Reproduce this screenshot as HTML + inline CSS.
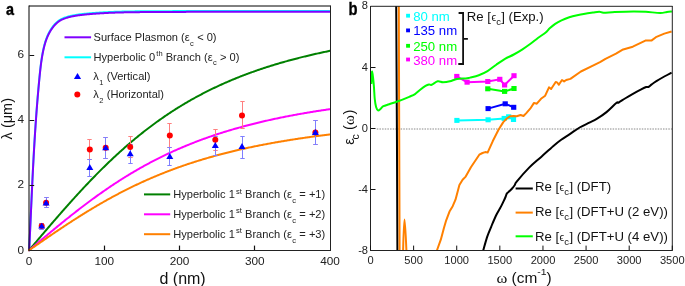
<!DOCTYPE html>
<html><head><meta charset="utf-8"><style>
html,body{margin:0;padding:0;background:#fff;}
svg{display:block;}
svg{will-change:transform;}
</style></head><body>
<svg xmlns="http://www.w3.org/2000/svg" width="685" height="286" viewBox="0 0 685 286">
<rect width="685" height="286" fill="#fff"/>
<g fill="none" stroke-width="2" stroke-linejoin="round" stroke-linecap="round">
<path d="M29.20,249.50 L29.22,248.86 L29.26,248.13 L29.29,247.40 L29.33,246.67 L29.36,245.93 L29.40,245.20 L29.43,244.47 L29.47,243.74 L29.50,243.01 L29.53,242.28 L29.57,241.55 L29.60,240.82 L29.64,240.09 L29.67,239.36 L29.71,238.63 L29.74,237.90 L29.77,237.17 L29.81,236.44 L29.84,235.71 L29.87,234.98 L29.91,234.25 L29.94,233.52 L29.98,232.80 L30.01,232.07 L30.04,231.34 L30.08,230.61 L30.11,229.88 L30.14,229.15 L30.18,228.43 L30.21,227.70 L30.24,226.97 L30.28,226.25 L30.31,225.52 L30.34,224.79 L30.37,224.06 L30.41,223.34 L30.44,222.61 L30.47,221.88 L30.51,221.16 L30.54,220.43 L30.57,219.71 L30.60,218.98 L30.64,218.25 L30.67,217.53 L30.70,216.80 L30.74,216.08 L30.77,215.35 L30.80,214.63 L30.83,213.90 L30.87,213.18 L30.90,212.45 L30.93,211.73 L30.97,211.00 L31.00,210.28 L31.03,209.55 L31.06,208.83 L31.10,208.10 L31.13,207.38 L31.16,206.66 L31.20,205.93 L31.23,205.21 L31.26,204.48 L31.29,203.76 L31.33,203.04 L31.36,202.31 L31.39,201.59 L31.43,200.87 L31.46,200.14 L31.49,199.42 L31.53,198.70 L31.56,197.97 L31.59,197.25 L31.63,196.53 L31.66,195.80 L31.69,195.08 L31.73,194.36 L31.76,193.64 L31.79,192.91 L31.83,192.19 L31.86,191.47 L31.89,190.75 L31.93,190.02 L31.96,189.30 L32.00,188.58 L32.03,187.86 L32.07,187.14 L32.10,186.41 L32.13,185.69 L32.17,184.97 L32.20,184.25 L32.24,183.53 L32.27,182.81 L32.31,182.08 L32.34,181.36 L32.38,180.64 L32.41,179.92 L32.45,179.20 L32.48,178.48 L32.52,177.75 L32.55,177.03 L32.59,176.31 L32.62,175.59 L32.66,174.87 L32.70,174.15 L32.73,173.43 L32.77,172.71 L32.81,171.98 L32.84,171.26 L32.88,170.54 L32.91,169.82 L32.95,169.10 L32.99,168.38 L33.03,167.66 L33.06,166.94 L33.10,166.22 L33.14,165.50 L33.18,164.77 L33.21,164.05 L33.25,163.33 L33.29,162.61 L33.33,161.89 L33.37,161.17 L33.40,160.45 L33.44,159.73 L33.48,159.01 L33.52,158.29 L33.56,157.57 L33.60,156.84 L33.64,156.12 L33.68,155.40 L33.72,154.68 L33.76,153.96 L33.80,153.24 L33.84,152.52 L33.88,151.80 L33.92,151.08 L33.96,150.36 L34.00,149.63 L34.05,148.91 L34.09,148.19 L34.13,147.47 L34.17,146.75 L34.21,146.03 L34.26,145.31 L34.30,144.59 L34.34,143.87 L34.38,143.14 L34.43,142.42 L34.47,141.70 L34.51,140.98 L34.56,140.26 L34.60,139.54 L34.65,138.82 L34.69,138.09 L34.74,137.37 L34.78,136.65 L34.83,135.93 L34.87,135.21 L34.92,134.49 L34.96,133.76 L35.01,133.04 L35.06,132.32 L35.10,131.60 L35.15,130.88 L35.20,130.15 L35.24,129.43 L35.29,128.71 L35.34,127.99 L35.39,127.27 L35.44,126.54 L35.49,125.82 L35.53,125.10 L35.58,124.38 L35.63,123.65 L35.68,122.93 L35.73,122.21 L35.78,121.48 L35.83,120.76 L35.88,120.04 L35.94,119.32 L35.99,118.59 L36.04,117.87 L36.09,117.15 L36.14,116.42 L36.20,115.70 L36.25,114.98 L36.30,114.25 L36.36,113.53 L36.41,112.80 L36.46,112.08 L36.52,111.36 L36.57,110.63 L36.63,109.91 L36.68,109.18 L36.74,108.46 L36.79,107.73 L36.85,107.01 L36.91,106.28 L36.96,105.56 L37.02,104.83 L37.08,104.11 L37.14,103.38 L37.19,102.66 L37.25,101.93 L37.31,101.21 L37.37,100.48 L37.43,99.76 L37.49,99.03 L37.55,98.30 L37.61,97.58 L37.67,96.85 L37.73,96.13 L37.80,95.40 L37.86,94.67 L37.92,93.95 L37.98,93.22 L38.05,92.49 L38.11,91.76 L38.17,91.04 L38.24,90.31 L38.30,89.58 L38.37,88.85 L38.43,88.13 L38.50,87.40 L38.56,86.67 L38.63,85.94 L38.70,85.21 L38.76,84.48 L38.83,83.76 L38.90,83.03 L38.97,82.30 L39.04,81.57 L39.11,80.84 L39.18,80.11 L39.25,79.38 L39.32,78.65 L39.39,77.92 L39.46,77.19 L39.53,76.46 L39.60,75.73 L39.67,75.00 L39.75,74.27 L39.82,73.54 L39.90,72.81 L39.97,72.08 L40.05,71.34 L40.13,70.62 L40.21,69.89 L40.29,69.16 L40.37,68.43 L40.45,67.70 L40.54,66.97 L40.62,66.24 L40.71,65.52 L40.80,64.79 L40.89,64.07 L40.99,63.34 L41.08,62.62 L41.18,61.89 L41.28,61.17 L41.38,60.45 L41.49,59.73 L41.60,59.01 L41.71,58.30 L41.82,57.58 L41.93,56.86 L42.05,56.15 L42.17,55.44 L42.30,54.73 L42.42,54.02 L42.56,53.31 L42.69,52.60 L42.83,51.90 L42.97,51.19 L43.11,50.49 L43.26,49.79 L43.41,49.09 L43.57,48.40 L43.72,47.70 L43.89,47.01 L44.06,46.32 L44.23,45.63 L44.41,44.94 L44.59,44.26 L44.78,43.58 L44.98,42.90 L45.18,42.22 L45.38,41.55 L45.60,40.87 L45.82,40.20 L46.05,39.54 L46.29,38.87 L46.53,38.21 L46.79,37.55 L47.05,36.89 L47.32,36.24 L47.60,35.59 L47.89,34.94 L48.19,34.30 L48.50,33.65 L48.82,33.01 L49.15,32.38 L49.49,31.75 L49.85,31.12 L50.21,30.49 L50.59,29.87 L50.98,29.25 L51.38,28.63 L51.79,28.02 L52.22,27.41 L52.66,26.81 L53.11,26.22 L53.57,25.63 L54.04,25.06 L54.53,24.49 L55.03,23.95 L55.54,23.41 L56.06,22.90 L56.59,22.40 L57.13,21.92 L57.68,21.46 L58.25,21.02 L58.82,20.61 L59.40,20.22 L60.00,19.85 L60.60,19.50 L61.21,19.18 L61.83,18.87 L62.45,18.58 L63.09,18.30 L63.73,18.04 L64.37,17.79 L65.03,17.56 L65.68,17.33 L66.35,17.11 L67.02,16.91 L67.69,16.71 L68.37,16.52 L69.05,16.33 L69.73,16.16 L70.42,15.99 L71.12,15.83 L71.81,15.67 L72.51,15.53 L73.22,15.39 L73.93,15.25 L74.64,15.12 L75.35,15.00 L76.06,14.88 L76.78,14.77 L77.50,14.66 L78.22,14.55 L78.95,14.45 L79.67,14.36 L80.40,14.27 L81.13,14.18 L81.86,14.09 L82.59,14.01 L83.32,13.93 L84.05,13.86 L84.78,13.78 L85.51,13.71 L86.25,13.64 L86.98,13.57 L87.71,13.50 L88.44,13.43 L89.17,13.37 L89.91,13.30 L90.64,13.24 L91.37,13.18 L92.10,13.12 L92.83,13.06 L93.56,13.00 L94.29,12.95 L95.03,12.89 L95.76,12.84 L96.49,12.79 L97.22,12.74 L97.95,12.69 L98.68,12.64 L99.41,12.59 L100.14,12.54 L100.87,12.50 L101.60,12.46 L102.33,12.41 L103.06,12.37 L103.79,12.33 L104.52,12.29 L105.25,12.25 L105.98,12.21 L106.71,12.18 L107.44,12.14 L108.17,12.11 L108.89,12.07 L109.62,12.04 L110.35,12.01 L111.08,11.98 L111.81,11.95 L112.54,11.92 L113.27,11.89 L114.00,11.86 L114.72,11.84 L115.45,11.81 L116.18,11.79 L116.91,11.76 L117.64,11.74 L118.36,11.72 L119.09,11.70 L119.82,11.67 L120.55,11.65 L121.28,11.63 L122.00,11.62 L122.73,11.60 L123.46,11.58 L124.18,11.56 L124.91,11.55 L125.64,11.53 L126.37,11.52 L127.09,11.50 L127.82,11.49 L128.55,11.47 L129.27,11.46 L130.00,11.45 L130.73,11.44 L131.45,11.42 L132.18,11.41 L132.91,11.40 L133.63,11.39 L134.36,11.38 L135.08,11.37 L135.81,11.37 L136.54,11.36 L137.26,11.35 L137.99,11.34 L138.71,11.33 L139.44,11.33 L140.16,11.32 L140.89,11.31 L141.62,11.31 L142.34,11.30 L143.07,11.29 L143.79,11.29 L144.52,11.28 L145.24,11.28 L145.97,11.27 L146.69,11.27 L147.42,11.26 L148.14,11.26 L148.87,11.25 L149.59,11.25 L150.32,11.24 L151.04,11.24 L151.77,11.23 L152.49,11.23 L153.21,11.22 L153.94,11.22 L154.66,11.22 L155.39,11.21 L156.11,11.21 L156.84,11.20 L157.56,11.20 L158.28,11.19 L159.01,11.19 L159.73,11.19 L160.46,11.18 L161.18,11.18 L161.90,11.18 L162.63,11.17 L163.35,11.17 L164.08,11.16 L164.80,11.16 L165.52,11.16 L166.25,11.15 L166.97,11.15 L167.69,11.15 L168.42,11.14 L169.14,11.14 L169.86,11.14 L170.59,11.13 L171.31,11.13 L172.04,11.13 L172.76,11.12 L173.48,11.12 L174.20,11.12 L174.93,11.11 L175.65,11.11 L176.37,11.11 L177.10,11.11 L177.82,11.10 L178.54,11.10 L179.27,11.10 L179.99,11.10 L180.71,11.09 L181.44,11.09 L182.16,11.09 L182.88,11.09 L183.60,11.08 L184.33,11.08 L185.05,11.08 L185.77,11.08 L186.50,11.07 L187.22,11.07 L187.94,11.07 L188.66,11.07 L189.39,11.06 L190.11,11.06 L190.83,11.06 L191.55,11.06 L192.28,11.06 L193.00,11.05 L193.72,11.05 L194.44,11.05 L195.17,11.05 L195.89,11.05 L196.61,11.05 L197.33,11.04 L198.06,11.04 L198.78,11.04 L199.50,11.04 L200.22,11.04 L200.95,11.04 L201.67,11.03 L202.39,11.03 L203.11,11.03 L203.84,11.03 L204.56,11.03 L205.28,11.03 L206.00,11.03 L206.73,11.02 L207.45,11.02 L208.17,11.02 L208.89,11.02 L209.62,11.02 L210.34,11.02 L211.06,11.02 L211.78,11.02 L212.50,11.01 L213.23,11.01 L213.95,11.01 L214.67,11.01 L215.39,11.01 L216.12,11.01 L216.84,11.01 L217.56,11.01 L218.28,11.01 L219.01,11.01 L219.73,11.01 L220.45,11.00 L221.17,11.00 L221.90,11.00 L222.62,11.00 L223.34,11.00 L224.06,11.00 L224.79,11.00 L225.51,11.00 L226.23,11.00 L226.95,11.00 L227.68,11.00 L228.40,11.00 L229.12,11.00 L229.84,11.00 L230.57,11.00 L231.29,11.00 L232.01,10.99 L232.73,10.99 L233.46,10.99 L234.18,10.99 L234.90,10.99 L235.63,10.99 L236.35,10.99 L237.07,10.99 L237.79,10.99 L238.52,10.99 L239.24,10.99 L239.96,10.99 L240.69,10.99 L241.41,10.99 L242.13,10.99 L242.85,10.99 L243.58,10.99 L244.30,10.99 L245.02,10.99 L245.75,10.99 L246.47,10.99 L247.19,10.99 L247.92,10.99 L248.64,10.99 L249.36,10.99 L250.09,10.99 L250.81,10.99 L251.53,10.99 L252.26,10.99 L252.98,10.99 L253.70,10.99 L254.43,10.99 L255.15,10.99 L255.88,10.99 L256.60,10.99 L257.32,10.99 L258.05,10.99 L258.77,10.99 L259.49,10.99 L260.22,10.99 L260.94,10.99 L261.67,10.99 L262.39,10.99 L263.11,10.99 L263.84,10.99 L264.56,10.99 L265.29,10.99 L266.01,10.99 L266.74,10.99 L267.46,10.99 L268.19,10.99 L268.91,10.99 L269.63,10.99 L270.36,10.99 L271.08,10.99 L271.81,10.99 L272.53,10.99 L273.26,10.99 L273.98,11.00 L274.71,11.00 L275.43,11.00 L276.16,11.00 L276.88,11.00 L277.61,11.00 L278.33,11.00 L279.06,11.00 L279.79,11.00 L280.51,11.00 L281.24,11.00 L281.96,11.00 L282.69,11.00 L283.41,11.00 L284.14,11.00 L284.87,11.00 L285.59,11.00 L286.32,11.00 L287.04,11.00 L287.77,11.00 L288.50,11.00 L289.22,11.00 L289.95,11.00 L290.68,11.00 L291.40,11.00 L292.13,11.00 L292.86,11.00 L293.58,11.00 L294.31,11.00 L295.04,11.00 L295.76,11.00 L296.49,11.00 L297.22,11.00 L297.94,11.00 L298.67,11.00 L299.40,11.00 L300.13,11.00 L300.85,11.00 L301.58,11.00 L302.31,11.00 L303.04,11.00 L303.77,11.01 L304.49,11.01 L305.22,11.01 L305.95,11.01 L306.68,11.01 L307.41,11.01 L308.14,11.01 L308.86,11.01 L309.59,11.01 L310.32,11.01 L311.05,11.01 L311.78,11.01 L312.51,11.01 L313.24,11.01 L313.97,11.01 L314.70,11.01 L315.43,11.01 L316.16,11.01 L316.88,11.01 L317.61,11.01 L318.34,11.01 L319.07,11.01 L319.80,11.01 L320.53,11.01 L321.26,11.00 L322.00,11.00 L322.73,11.00 L323.46,11.00 L324.19,11.00 L324.92,11.00 L325.65,11.00 L326.38,11.00 L327.11,11.00 L327.84,11.00 L328.57,11.00 L329.30,11.00 L330.04,11.00" stroke="#00FFFF"/>
<path d="M29.20,250.30 L29.22,249.66 L29.26,248.93 L29.29,248.20 L29.33,247.47 L29.36,246.73 L29.40,246.00 L29.43,245.27 L29.47,244.54 L29.50,243.81 L29.53,243.08 L29.57,242.35 L29.60,241.62 L29.64,240.89 L29.67,240.16 L29.71,239.43 L29.74,238.70 L29.77,237.97 L29.81,237.24 L29.84,236.51 L29.87,235.78 L29.91,235.05 L29.94,234.32 L29.98,233.60 L30.01,232.87 L30.04,232.14 L30.08,231.41 L30.11,230.68 L30.14,229.95 L30.18,229.23 L30.21,228.50 L30.24,227.77 L30.28,227.05 L30.31,226.32 L30.34,225.59 L30.37,224.86 L30.41,224.14 L30.44,223.41 L30.47,222.68 L30.51,221.96 L30.54,221.23 L30.57,220.51 L30.60,219.78 L30.64,219.05 L30.67,218.33 L30.70,217.60 L30.74,216.88 L30.77,216.15 L30.80,215.43 L30.83,214.70 L30.87,213.98 L30.90,213.25 L30.93,212.53 L30.97,211.80 L31.00,211.08 L31.03,210.35 L31.06,209.63 L31.10,208.90 L31.13,208.18 L31.16,207.46 L31.20,206.73 L31.23,206.01 L31.26,205.28 L31.29,204.56 L31.33,203.84 L31.36,203.11 L31.39,202.39 L31.43,201.67 L31.46,200.94 L31.49,200.22 L31.53,199.50 L31.56,198.77 L31.59,198.05 L31.63,197.33 L31.66,196.60 L31.69,195.88 L31.73,195.16 L31.76,194.44 L31.79,193.71 L31.83,192.99 L31.86,192.27 L31.89,191.55 L31.93,190.82 L31.96,190.10 L32.00,189.38 L32.03,188.66 L32.07,187.94 L32.10,187.21 L32.13,186.49 L32.17,185.77 L32.20,185.05 L32.24,184.33 L32.27,183.61 L32.31,182.88 L32.34,182.16 L32.38,181.44 L32.41,180.72 L32.45,180.00 L32.48,179.28 L32.52,178.55 L32.55,177.83 L32.59,177.11 L32.62,176.39 L32.66,175.67 L32.70,174.95 L32.73,174.23 L32.77,173.51 L32.81,172.78 L32.84,172.06 L32.88,171.34 L32.91,170.62 L32.95,169.90 L32.99,169.18 L33.03,168.46 L33.06,167.74 L33.10,167.02 L33.14,166.30 L33.18,165.57 L33.21,164.85 L33.25,164.13 L33.29,163.41 L33.33,162.69 L33.37,161.97 L33.40,161.25 L33.44,160.53 L33.48,159.81 L33.52,159.09 L33.56,158.37 L33.60,157.64 L33.64,156.92 L33.68,156.20 L33.72,155.48 L33.76,154.76 L33.80,154.04 L33.84,153.32 L33.88,152.60 L33.92,151.88 L33.96,151.16 L34.00,150.43 L34.05,149.71 L34.09,148.99 L34.13,148.27 L34.17,147.55 L34.21,146.83 L34.26,146.11 L34.30,145.39 L34.34,144.67 L34.38,143.94 L34.43,143.22 L34.47,142.50 L34.51,141.78 L34.56,141.06 L34.60,140.34 L34.65,139.62 L34.69,138.89 L34.74,138.17 L34.78,137.45 L34.83,136.73 L34.87,136.01 L34.92,135.29 L34.96,134.56 L35.01,133.84 L35.06,133.12 L35.10,132.40 L35.15,131.68 L35.20,130.95 L35.24,130.23 L35.29,129.51 L35.34,128.79 L35.39,128.07 L35.44,127.34 L35.49,126.62 L35.53,125.90 L35.58,125.18 L35.63,124.45 L35.68,123.73 L35.73,123.01 L35.78,122.28 L35.83,121.56 L35.88,120.84 L35.94,120.12 L35.99,119.39 L36.04,118.67 L36.09,117.95 L36.14,117.22 L36.20,116.50 L36.25,115.78 L36.30,115.05 L36.36,114.33 L36.41,113.60 L36.46,112.88 L36.52,112.16 L36.57,111.43 L36.63,110.71 L36.68,109.98 L36.74,109.26 L36.79,108.53 L36.85,107.81 L36.91,107.08 L36.96,106.36 L37.02,105.63 L37.08,104.91 L37.14,104.18 L37.19,103.46 L37.25,102.73 L37.31,102.01 L37.37,101.28 L37.43,100.56 L37.49,99.83 L37.55,99.10 L37.61,98.38 L37.67,97.65 L37.73,96.93 L37.80,96.20 L37.86,95.47 L37.92,94.75 L37.98,94.02 L38.05,93.29 L38.11,92.56 L38.17,91.84 L38.24,91.11 L38.30,90.38 L38.37,89.65 L38.43,88.93 L38.50,88.20 L38.56,87.47 L38.63,86.74 L38.70,86.01 L38.76,85.28 L38.83,84.56 L38.90,83.83 L38.97,83.10 L39.04,82.37 L39.11,81.64 L39.18,80.91 L39.25,80.18 L39.32,79.45 L39.39,78.72 L39.46,77.99 L39.53,77.26 L39.60,76.53 L39.67,75.80 L39.75,75.07 L39.82,74.34 L39.90,73.61 L39.97,72.88 L40.05,72.14 L40.13,71.42 L40.21,70.69 L40.29,69.96 L40.37,69.23 L40.45,68.50 L40.54,67.77 L40.62,67.04 L40.71,66.32 L40.80,65.59 L40.89,64.87 L40.99,64.14 L41.08,63.42 L41.18,62.69 L41.28,61.97 L41.38,61.25 L41.49,60.53 L41.60,59.81 L41.71,59.10 L41.82,58.38 L41.93,57.66 L42.05,56.95 L42.17,56.24 L42.30,55.53 L42.42,54.82 L42.56,54.11 L42.69,53.40 L42.83,52.70 L42.97,51.99 L43.11,51.29 L43.26,50.59 L43.41,49.89 L43.57,49.20 L43.72,48.50 L43.89,47.81 L44.06,47.12 L44.23,46.43 L44.41,45.74 L44.59,45.06 L44.78,44.38 L44.98,43.70 L45.18,43.02 L45.38,42.35 L45.60,41.67 L45.82,41.00 L46.05,40.34 L46.29,39.67 L46.53,39.01 L46.79,38.35 L47.05,37.69 L47.32,37.04 L47.60,36.39 L47.89,35.74 L48.19,35.10 L48.50,34.45 L48.82,33.81 L49.15,33.18 L49.49,32.55 L49.85,31.92 L50.21,31.29 L50.59,30.67 L50.98,30.05 L51.38,29.43 L51.79,28.82 L52.22,28.21 L52.66,27.61 L53.11,27.02 L53.57,26.43 L54.04,25.86 L54.53,25.29 L55.03,24.75 L55.54,24.21 L56.06,23.70 L56.59,23.20 L57.13,22.72 L57.68,22.26 L58.25,21.82 L58.82,21.41 L59.40,21.02 L60.00,20.65 L60.60,20.30 L61.21,19.98 L61.83,19.67 L62.45,19.38 L63.09,19.10 L63.73,18.84 L64.37,18.59 L65.03,18.36 L65.68,18.13 L66.35,17.91 L67.02,17.71 L67.69,17.51 L68.37,17.32 L69.05,17.13 L69.73,16.96 L70.42,16.79 L71.12,16.63 L71.81,16.47 L72.51,16.33 L73.22,16.19 L73.93,16.05 L74.64,15.92 L75.35,15.80 L76.06,15.68 L76.78,15.57 L77.50,15.46 L78.22,15.35 L78.95,15.25 L79.67,15.16 L80.40,15.07 L81.13,14.98 L81.86,14.89 L82.59,14.81 L83.32,14.73 L84.05,14.66 L84.78,14.58 L85.51,14.51 L86.25,14.44 L86.98,14.37 L87.71,14.30 L88.44,14.23 L89.17,14.17 L89.91,14.10 L90.64,14.04 L91.37,13.98 L92.10,13.92 L92.83,13.86 L93.56,13.80 L94.29,13.75 L95.03,13.69 L95.76,13.64 L96.49,13.59 L97.22,13.54 L97.95,13.49 L98.68,13.44 L99.41,13.39 L100.14,13.34 L100.87,13.30 L101.60,13.26 L102.33,13.21 L103.06,13.17 L103.79,13.13 L104.52,13.09 L105.25,13.05 L105.98,13.01 L106.71,12.98 L107.44,12.94 L108.17,12.91 L108.89,12.87 L109.62,12.84 L110.35,12.81 L111.08,12.78 L111.81,12.75 L112.54,12.72 L113.27,12.69 L114.00,12.66 L114.72,12.64 L115.45,12.61 L116.18,12.59 L116.91,12.56 L117.64,12.54 L118.36,12.52 L119.09,12.50 L119.82,12.47 L120.55,12.45 L121.28,12.43 L122.00,12.42 L122.73,12.40 L123.46,12.38 L124.18,12.36 L124.91,12.35 L125.64,12.33 L126.37,12.32 L127.09,12.30 L127.82,12.29 L128.55,12.27 L129.27,12.26 L130.00,12.25 L130.73,12.24 L131.45,12.22 L132.18,12.21 L132.91,12.20 L133.63,12.19 L134.36,12.18 L135.08,12.17 L135.81,12.17 L136.54,12.16 L137.26,12.15 L137.99,12.14 L138.71,12.13 L139.44,12.13 L140.16,12.12 L140.89,12.11 L141.62,12.11 L142.34,12.10 L143.07,12.09 L143.79,12.09 L144.52,12.08 L145.24,12.08 L145.97,12.07 L146.69,12.07 L147.42,12.06 L148.14,12.06 L148.87,12.05 L149.59,12.05 L150.32,12.04 L151.04,12.04 L151.77,12.03 L152.49,12.03 L153.21,12.02 L153.94,12.02 L154.66,12.02 L155.39,12.01 L156.11,12.01 L156.84,12.00 L157.56,12.00 L158.28,11.99 L159.01,11.99 L159.73,11.99 L160.46,11.98 L161.18,11.98 L161.90,11.98 L162.63,11.97 L163.35,11.97 L164.08,11.96 L164.80,11.96 L165.52,11.96 L166.25,11.95 L166.97,11.95 L167.69,11.95 L168.42,11.94 L169.14,11.94 L169.86,11.94 L170.59,11.93 L171.31,11.93 L172.04,11.93 L172.76,11.92 L173.48,11.92 L174.20,11.92 L174.93,11.91 L175.65,11.91 L176.37,11.91 L177.10,11.91 L177.82,11.90 L178.54,11.90 L179.27,11.90 L179.99,11.90 L180.71,11.89 L181.44,11.89 L182.16,11.89 L182.88,11.89 L183.60,11.88 L184.33,11.88 L185.05,11.88 L185.77,11.88 L186.50,11.87 L187.22,11.87 L187.94,11.87 L188.66,11.87 L189.39,11.86 L190.11,11.86 L190.83,11.86 L191.55,11.86 L192.28,11.86 L193.00,11.85 L193.72,11.85 L194.44,11.85 L195.17,11.85 L195.89,11.85 L196.61,11.85 L197.33,11.84 L198.06,11.84 L198.78,11.84 L199.50,11.84 L200.22,11.84 L200.95,11.84 L201.67,11.83 L202.39,11.83 L203.11,11.83 L203.84,11.83 L204.56,11.83 L205.28,11.83 L206.00,11.83 L206.73,11.82 L207.45,11.82 L208.17,11.82 L208.89,11.82 L209.62,11.82 L210.34,11.82 L211.06,11.82 L211.78,11.82 L212.50,11.81 L213.23,11.81 L213.95,11.81 L214.67,11.81 L215.39,11.81 L216.12,11.81 L216.84,11.81 L217.56,11.81 L218.28,11.81 L219.01,11.81 L219.73,11.81 L220.45,11.80 L221.17,11.80 L221.90,11.80 L222.62,11.80 L223.34,11.80 L224.06,11.80 L224.79,11.80 L225.51,11.80 L226.23,11.80 L226.95,11.80 L227.68,11.80 L228.40,11.80 L229.12,11.80 L229.84,11.80 L230.57,11.80 L231.29,11.80 L232.01,11.79 L232.73,11.79 L233.46,11.79 L234.18,11.79 L234.90,11.79 L235.63,11.79 L236.35,11.79 L237.07,11.79 L237.79,11.79 L238.52,11.79 L239.24,11.79 L239.96,11.79 L240.69,11.79 L241.41,11.79 L242.13,11.79 L242.85,11.79 L243.58,11.79 L244.30,11.79 L245.02,11.79 L245.75,11.79 L246.47,11.79 L247.19,11.79 L247.92,11.79 L248.64,11.79 L249.36,11.79 L250.09,11.79 L250.81,11.79 L251.53,11.79 L252.26,11.79 L252.98,11.79 L253.70,11.79 L254.43,11.79 L255.15,11.79 L255.88,11.79 L256.60,11.79 L257.32,11.79 L258.05,11.79 L258.77,11.79 L259.49,11.79 L260.22,11.79 L260.94,11.79 L261.67,11.79 L262.39,11.79 L263.11,11.79 L263.84,11.79 L264.56,11.79 L265.29,11.79 L266.01,11.79 L266.74,11.79 L267.46,11.79 L268.19,11.79 L268.91,11.79 L269.63,11.79 L270.36,11.79 L271.08,11.79 L271.81,11.79 L272.53,11.79 L273.26,11.79 L273.98,11.80 L274.71,11.80 L275.43,11.80 L276.16,11.80 L276.88,11.80 L277.61,11.80 L278.33,11.80 L279.06,11.80 L279.79,11.80 L280.51,11.80 L281.24,11.80 L281.96,11.80 L282.69,11.80 L283.41,11.80 L284.14,11.80 L284.87,11.80 L285.59,11.80 L286.32,11.80 L287.04,11.80 L287.77,11.80 L288.50,11.80 L289.22,11.80 L289.95,11.80 L290.68,11.80 L291.40,11.80 L292.13,11.80 L292.86,11.80 L293.58,11.80 L294.31,11.80 L295.04,11.80 L295.76,11.80 L296.49,11.80 L297.22,11.80 L297.94,11.80 L298.67,11.80 L299.40,11.80 L300.13,11.80 L300.85,11.80 L301.58,11.80 L302.31,11.80 L303.04,11.80 L303.77,11.81 L304.49,11.81 L305.22,11.81 L305.95,11.81 L306.68,11.81 L307.41,11.81 L308.14,11.81 L308.86,11.81 L309.59,11.81 L310.32,11.81 L311.05,11.81 L311.78,11.81 L312.51,11.81 L313.24,11.81 L313.97,11.81 L314.70,11.81 L315.43,11.81 L316.16,11.81 L316.88,11.81 L317.61,11.81 L318.34,11.81 L319.07,11.81 L319.80,11.81 L320.53,11.81 L321.26,11.80 L322.00,11.80 L322.73,11.80 L323.46,11.80 L324.19,11.80 L324.92,11.80 L325.65,11.80 L326.38,11.80 L327.11,11.80 L327.84,11.80 L328.57,11.80 L329.30,11.80 L330.04,11.80" stroke="#8000FF"/>
<path d="M29.00,250.30 L30.00,249.12 L31.00,247.94 L32.00,246.75 L33.00,245.57 L34.00,244.39 L35.00,243.21 L36.00,242.03 L37.00,240.85 L38.00,239.67 L39.00,238.49 L40.00,237.31 L41.00,236.14 L42.00,234.96 L43.00,233.79 L44.00,232.61 L45.00,231.44 L46.00,230.27 L47.00,229.10 L48.00,227.93 L49.00,226.76 L50.00,225.60 L51.00,224.43 L52.00,223.27 L53.00,222.11 L54.00,220.95 L55.00,219.80 L56.00,218.64 L57.00,217.49 L58.00,216.34 L59.00,215.19 L60.00,214.05 L61.00,212.90 L62.00,211.76 L63.00,210.63 L64.00,209.49 L65.00,208.36 L66.00,207.23 L67.00,206.10 L68.00,204.98 L69.00,203.86 L70.00,202.74 L71.00,201.62 L72.00,200.51 L73.00,199.40 L74.00,198.30 L75.00,197.19 L76.00,196.09 L77.00,195.00 L78.00,193.91 L79.00,192.82 L80.00,191.74 L81.00,190.65 L82.00,189.58 L83.00,188.50 L84.00,187.43 L85.00,186.37 L86.00,185.31 L87.00,184.25 L88.00,183.20 L89.00,182.15 L90.00,181.10 L91.00,180.06 L92.00,179.02 L93.00,177.99 L94.00,176.96 L95.00,175.94 L96.00,174.92 L97.00,173.90 L98.00,172.89 L99.00,171.88 L100.00,170.88 L101.00,169.88 L102.00,168.89 L103.00,167.90 L104.00,166.92 L105.00,165.94 L106.00,164.97 L107.00,164.00 L108.00,163.03 L109.00,162.07 L110.00,161.12 L111.00,160.17 L112.00,159.22 L113.00,158.28 L114.00,157.34 L115.00,156.41 L116.00,155.48 L117.00,154.56 L118.00,153.65 L119.00,152.74 L120.00,151.83 L121.00,150.93 L122.00,150.03 L123.00,149.14 L124.00,148.25 L125.00,147.37 L126.00,146.49 L127.00,145.62 L128.00,144.76 L129.00,143.89 L130.00,143.04 L131.00,142.19 L132.00,141.34 L133.00,140.50 L134.00,139.66 L135.00,138.83 L136.00,138.00 L137.00,137.18 L138.00,136.37 L139.00,135.55 L140.00,134.75 L141.00,133.95 L142.00,133.15 L143.00,132.36 L144.00,131.57 L145.00,130.79 L146.00,130.01 L147.00,129.24 L148.00,128.48 L149.00,127.72 L150.00,126.96 L151.00,126.21 L152.00,125.46 L153.00,124.72 L154.00,123.98 L155.00,123.25 L156.00,122.52 L157.00,121.80 L158.00,121.08 L159.00,120.37 L160.00,119.66 L161.00,118.96 L162.00,118.26 L163.00,117.57 L164.00,116.88 L165.00,116.19 L166.00,115.51 L167.00,114.84 L168.00,114.17 L169.00,113.50 L170.00,112.84 L171.00,112.18 L172.00,111.53 L173.00,110.89 L174.00,110.24 L175.00,109.60 L176.00,108.97 L177.00,108.34 L178.00,107.72 L179.00,107.10 L180.00,106.48 L181.00,105.87 L182.00,105.26 L183.00,104.66 L184.00,104.06 L185.00,103.47 L186.00,102.88 L187.00,102.29 L188.00,101.71 L189.00,101.13 L190.00,100.56 L191.00,99.99 L192.00,99.42 L193.00,98.86 L194.00,98.31 L195.00,97.75 L196.00,97.21 L197.00,96.66 L198.00,96.12 L199.00,95.58 L200.00,95.05 L201.00,94.52 L202.00,94.00 L203.00,93.48 L204.00,92.96 L205.00,92.45 L206.00,91.94 L207.00,91.43 L208.00,90.93 L209.00,90.43 L210.00,89.94 L211.00,89.45 L212.00,88.96 L213.00,88.47 L214.00,87.99 L215.00,87.52 L216.00,87.05 L217.00,86.58 L218.00,86.11 L219.00,85.65 L220.00,85.19 L221.00,84.73 L222.00,84.28 L223.00,83.83 L224.00,83.39 L225.00,82.94 L226.00,82.51 L227.00,82.07 L228.00,81.64 L229.00,81.21 L230.00,80.78 L231.00,80.36 L232.00,79.94 L233.00,79.52 L234.00,79.11 L235.00,78.70 L236.00,78.29 L237.00,77.89 L238.00,77.49 L239.00,77.09 L240.00,76.69 L241.00,76.30 L242.00,75.91 L243.00,75.53 L244.00,75.14 L245.00,74.76 L246.00,74.38 L247.00,74.01 L248.00,73.64 L249.00,73.27 L250.00,72.90 L251.00,72.54 L252.00,72.18 L253.00,71.82 L254.00,71.46 L255.00,71.11 L256.00,70.76 L257.00,70.41 L258.00,70.07 L259.00,69.72 L260.00,69.38 L261.00,69.05 L262.00,68.71 L263.00,68.38 L264.00,68.05 L265.00,67.72 L266.00,67.39 L267.00,67.07 L268.00,66.75 L269.00,66.43 L270.00,66.12 L271.00,65.80 L272.00,65.49 L273.00,65.18 L274.00,64.88 L275.00,64.57 L276.00,64.27 L277.00,63.97 L278.00,63.67 L279.00,63.38 L280.00,63.08 L281.00,62.79 L282.00,62.50 L283.00,62.22 L284.00,61.93 L285.00,61.65 L286.00,61.37 L287.00,61.09 L288.00,60.81 L289.00,60.54 L290.00,60.27 L291.00,60.00 L292.00,59.73 L293.00,59.46 L294.00,59.20 L295.00,58.93 L296.00,58.67 L297.00,58.41 L298.00,58.16 L299.00,57.90 L300.00,57.65 L301.00,57.39 L302.00,57.14 L303.00,56.90 L304.00,56.65 L305.00,56.41 L306.00,56.16 L307.00,55.92 L308.00,55.68 L309.00,55.44 L310.00,55.21 L311.00,54.97 L312.00,54.74 L313.00,54.51 L314.00,54.28 L315.00,54.05 L316.00,53.83 L317.00,53.60 L318.00,53.38 L319.00,53.16 L320.00,52.94 L321.00,52.72 L322.00,52.50 L323.00,52.29 L324.00,52.08 L325.00,51.86 L326.00,51.65 L327.00,51.44 L328.00,51.24 L329.00,51.03 L330.00,50.83" stroke="#008000"/>
<path d="M29.00,250.30 L30.00,249.46 L31.00,248.61 L32.00,247.77 L33.00,246.92 L34.00,246.08 L35.00,245.24 L36.00,244.39 L37.00,243.55 L38.00,242.71 L39.00,241.87 L40.00,241.03 L41.00,240.19 L42.00,239.35 L43.00,238.51 L44.00,237.67 L45.00,236.84 L46.00,236.00 L47.00,235.17 L48.00,234.33 L49.00,233.50 L50.00,232.67 L51.00,231.84 L52.00,231.01 L53.00,230.18 L54.00,229.36 L55.00,228.53 L56.00,227.71 L57.00,226.89 L58.00,226.07 L59.00,225.25 L60.00,224.44 L61.00,223.62 L62.00,222.81 L63.00,222.00 L64.00,221.19 L65.00,220.38 L66.00,219.58 L67.00,218.78 L68.00,217.98 L69.00,217.18 L70.00,216.38 L71.00,215.59 L72.00,214.80 L73.00,214.01 L74.00,213.22 L75.00,212.44 L76.00,211.66 L77.00,210.88 L78.00,210.10 L79.00,209.33 L80.00,208.56 L81.00,207.79 L82.00,207.03 L83.00,206.26 L84.00,205.51 L85.00,204.75 L86.00,204.00 L87.00,203.24 L88.00,202.50 L89.00,201.75 L90.00,201.01 L91.00,200.27 L92.00,199.54 L93.00,198.80 L94.00,198.07 L95.00,197.35 L96.00,196.62 L97.00,195.90 L98.00,195.19 L99.00,194.47 L100.00,193.76 L101.00,193.06 L102.00,192.35 L103.00,191.65 L104.00,190.96 L105.00,190.26 L106.00,189.57 L107.00,188.89 L108.00,188.21 L109.00,187.53 L110.00,186.85 L111.00,186.18 L112.00,185.51 L113.00,184.84 L114.00,184.18 L115.00,183.52 L116.00,182.87 L117.00,182.22 L118.00,181.57 L119.00,180.92 L120.00,180.28 L121.00,179.65 L122.00,179.01 L123.00,178.38 L124.00,177.76 L125.00,177.13 L126.00,176.51 L127.00,175.90 L128.00,175.29 L129.00,174.68 L130.00,174.07 L131.00,173.47 L132.00,172.87 L133.00,172.28 L134.00,171.69 L135.00,171.10 L136.00,170.52 L137.00,169.94 L138.00,169.37 L139.00,168.79 L140.00,168.22 L141.00,167.66 L142.00,167.10 L143.00,166.54 L144.00,165.99 L145.00,165.43 L146.00,164.89 L147.00,164.34 L148.00,163.80 L149.00,163.27 L150.00,162.73 L151.00,162.20 L152.00,161.68 L153.00,161.15 L154.00,160.64 L155.00,160.12 L156.00,159.61 L157.00,159.10 L158.00,158.59 L159.00,158.09 L160.00,157.59 L161.00,157.10 L162.00,156.61 L163.00,156.12 L164.00,155.63 L165.00,155.15 L166.00,154.67 L167.00,154.20 L168.00,153.73 L169.00,153.26 L170.00,152.79 L171.00,152.33 L172.00,151.87 L173.00,151.42 L174.00,150.96 L175.00,150.51 L176.00,150.07 L177.00,149.63 L178.00,149.19 L179.00,148.75 L180.00,148.32 L181.00,147.89 L182.00,147.46 L183.00,147.04 L184.00,146.61 L185.00,146.20 L186.00,145.78 L187.00,145.37 L188.00,144.96 L189.00,144.56 L190.00,144.15 L191.00,143.75 L192.00,143.35 L193.00,142.96 L194.00,142.57 L195.00,142.18 L196.00,141.79 L197.00,141.41 L198.00,141.03 L199.00,140.65 L200.00,140.28 L201.00,139.91 L202.00,139.54 L203.00,139.17 L204.00,138.81 L205.00,138.45 L206.00,138.09 L207.00,137.74 L208.00,137.38 L209.00,137.03 L210.00,136.68 L211.00,136.34 L212.00,136.00 L213.00,135.66 L214.00,135.32 L215.00,134.98 L216.00,134.65 L217.00,134.32 L218.00,133.99 L219.00,133.67 L220.00,133.35 L221.00,133.03 L222.00,132.71 L223.00,132.39 L224.00,132.08 L225.00,131.77 L226.00,131.46 L227.00,131.15 L228.00,130.85 L229.00,130.55 L230.00,130.25 L231.00,129.95 L232.00,129.66 L233.00,129.36 L234.00,129.07 L235.00,128.78 L236.00,128.50 L237.00,128.21 L238.00,127.93 L239.00,127.65 L240.00,127.37 L241.00,127.10 L242.00,126.82 L243.00,126.55 L244.00,126.28 L245.00,126.01 L246.00,125.75 L247.00,125.49 L248.00,125.22 L249.00,124.96 L250.00,124.71 L251.00,124.45 L252.00,124.20 L253.00,123.94 L254.00,123.69 L255.00,123.45 L256.00,123.20 L257.00,122.95 L258.00,122.71 L259.00,122.47 L260.00,122.23 L261.00,121.99 L262.00,121.76 L263.00,121.52 L264.00,121.29 L265.00,121.06 L266.00,120.83 L267.00,120.60 L268.00,120.38 L269.00,120.15 L270.00,119.93 L271.00,119.71 L272.00,119.49 L273.00,119.27 L274.00,119.06 L275.00,118.84 L276.00,118.63 L277.00,118.42 L278.00,118.21 L279.00,118.00 L280.00,117.80 L281.00,117.59 L282.00,117.39 L283.00,117.19 L284.00,116.98 L285.00,116.79 L286.00,116.59 L287.00,116.39 L288.00,116.20 L289.00,116.00 L290.00,115.81 L291.00,115.62 L292.00,115.43 L293.00,115.24 L294.00,115.06 L295.00,114.87 L296.00,114.69 L297.00,114.50 L298.00,114.32 L299.00,114.14 L300.00,113.96 L301.00,113.79 L302.00,113.61 L303.00,113.44 L304.00,113.26 L305.00,113.09 L306.00,112.92 L307.00,112.75 L308.00,112.58 L309.00,112.41 L310.00,112.25 L311.00,112.08 L312.00,111.92 L313.00,111.75 L314.00,111.59 L315.00,111.43 L316.00,111.27 L317.00,111.11 L318.00,110.96 L319.00,110.80 L320.00,110.65 L321.00,110.49 L322.00,110.34 L323.00,110.19 L324.00,110.04 L325.00,109.89 L326.00,109.74 L327.00,109.59 L328.00,109.44 L329.00,109.30 L330.00,109.15" stroke="#FF00FF"/>
<path d="M29.00,250.30 L30.00,249.61 L31.00,248.91 L32.00,248.22 L33.00,247.53 L34.00,246.83 L35.00,246.14 L36.00,245.45 L37.00,244.76 L38.00,244.07 L39.00,243.37 L40.00,242.68 L41.00,241.99 L42.00,241.31 L43.00,240.62 L44.00,239.93 L45.00,239.24 L46.00,238.56 L47.00,237.87 L48.00,237.19 L49.00,236.50 L50.00,235.82 L51.00,235.14 L52.00,234.46 L53.00,233.78 L54.00,233.11 L55.00,232.43 L56.00,231.75 L57.00,231.08 L58.00,230.41 L59.00,229.74 L60.00,229.07 L61.00,228.40 L62.00,227.74 L63.00,227.07 L64.00,226.41 L65.00,225.75 L66.00,225.09 L67.00,224.43 L68.00,223.78 L69.00,223.12 L70.00,222.47 L71.00,221.82 L72.00,221.18 L73.00,220.53 L74.00,219.89 L75.00,219.24 L76.00,218.61 L77.00,217.97 L78.00,217.33 L79.00,216.70 L80.00,216.07 L81.00,215.44 L82.00,214.82 L83.00,214.19 L84.00,213.57 L85.00,212.95 L86.00,212.34 L87.00,211.72 L88.00,211.11 L89.00,210.50 L90.00,209.89 L91.00,209.29 L92.00,208.69 L93.00,208.09 L94.00,207.49 L95.00,206.90 L96.00,206.31 L97.00,205.72 L98.00,205.14 L99.00,204.55 L100.00,203.97 L101.00,203.39 L102.00,202.82 L103.00,202.25 L104.00,201.68 L105.00,201.11 L106.00,200.55 L107.00,199.99 L108.00,199.43 L109.00,198.88 L110.00,198.32 L111.00,197.77 L112.00,197.23 L113.00,196.68 L114.00,196.14 L115.00,195.60 L116.00,195.07 L117.00,194.54 L118.00,194.01 L119.00,193.48 L120.00,192.96 L121.00,192.44 L122.00,191.92 L123.00,191.41 L124.00,190.90 L125.00,190.39 L126.00,189.88 L127.00,189.38 L128.00,188.88 L129.00,188.38 L130.00,187.89 L131.00,187.40 L132.00,186.91 L133.00,186.42 L134.00,185.94 L135.00,185.46 L136.00,184.98 L137.00,184.51 L138.00,184.04 L139.00,183.57 L140.00,183.11 L141.00,182.65 L142.00,182.19 L143.00,181.73 L144.00,181.28 L145.00,180.83 L146.00,180.38 L147.00,179.94 L148.00,179.50 L149.00,179.06 L150.00,178.62 L151.00,178.19 L152.00,177.76 L153.00,177.33 L154.00,176.91 L155.00,176.48 L156.00,176.06 L157.00,175.65 L158.00,175.24 L159.00,174.82 L160.00,174.42 L161.00,174.01 L162.00,173.61 L163.00,173.21 L164.00,172.81 L165.00,172.42 L166.00,172.03 L167.00,171.64 L168.00,171.25 L169.00,170.87 L170.00,170.49 L171.00,170.11 L172.00,169.73 L173.00,169.36 L174.00,168.99 L175.00,168.62 L176.00,168.26 L177.00,167.89 L178.00,167.53 L179.00,167.18 L180.00,166.82 L181.00,166.47 L182.00,166.12 L183.00,165.77 L184.00,165.42 L185.00,165.08 L186.00,164.74 L187.00,164.40 L188.00,164.07 L189.00,163.73 L190.00,163.40 L191.00,163.08 L192.00,162.75 L193.00,162.43 L194.00,162.10 L195.00,161.79 L196.00,161.47 L197.00,161.15 L198.00,160.84 L199.00,160.53 L200.00,160.22 L201.00,159.92 L202.00,159.62 L203.00,159.31 L204.00,159.02 L205.00,158.72 L206.00,158.42 L207.00,158.13 L208.00,157.84 L209.00,157.55 L210.00,157.27 L211.00,156.98 L212.00,156.70 L213.00,156.42 L214.00,156.14 L215.00,155.87 L216.00,155.59 L217.00,155.32 L218.00,155.05 L219.00,154.78 L220.00,154.52 L221.00,154.25 L222.00,153.99 L223.00,153.73 L224.00,153.47 L225.00,153.22 L226.00,152.96 L227.00,152.71 L228.00,152.46 L229.00,152.21 L230.00,151.96 L231.00,151.72 L232.00,151.47 L233.00,151.23 L234.00,150.99 L235.00,150.75 L236.00,150.52 L237.00,150.28 L238.00,150.05 L239.00,149.82 L240.00,149.59 L241.00,149.36 L242.00,149.13 L243.00,148.91 L244.00,148.69 L245.00,148.46 L246.00,148.24 L247.00,148.03 L248.00,147.81 L249.00,147.59 L250.00,147.38 L251.00,147.17 L252.00,146.96 L253.00,146.75 L254.00,146.54 L255.00,146.34 L256.00,146.13 L257.00,145.93 L258.00,145.73 L259.00,145.53 L260.00,145.33 L261.00,145.13 L262.00,144.94 L263.00,144.74 L264.00,144.55 L265.00,144.36 L266.00,144.17 L267.00,143.98 L268.00,143.79 L269.00,143.61 L270.00,143.42 L271.00,143.24 L272.00,143.06 L273.00,142.88 L274.00,142.70 L275.00,142.52 L276.00,142.34 L277.00,142.17 L278.00,141.99 L279.00,141.82 L280.00,141.65 L281.00,141.48 L282.00,141.31 L283.00,141.14 L284.00,140.97 L285.00,140.81 L286.00,140.64 L287.00,140.48 L288.00,140.32 L289.00,140.15 L290.00,139.99 L291.00,139.84 L292.00,139.68 L293.00,139.52 L294.00,139.37 L295.00,139.21 L296.00,139.06 L297.00,138.90 L298.00,138.75 L299.00,138.60 L300.00,138.45 L301.00,138.31 L302.00,138.16 L303.00,138.01 L304.00,137.87 L305.00,137.72 L306.00,137.58 L307.00,137.44 L308.00,137.30 L309.00,137.16 L310.00,137.02 L311.00,136.88 L312.00,136.74 L313.00,136.61 L314.00,136.47 L315.00,136.34 L316.00,136.20 L317.00,136.07 L318.00,135.94 L319.00,135.81 L320.00,135.68 L321.00,135.55 L322.00,135.42 L323.00,135.29 L324.00,135.17 L325.00,135.04 L326.00,134.92 L327.00,134.79 L328.00,134.67 L329.00,134.55 L330.00,134.43" stroke="#FF8000"/>
</g>
<g stroke-width="1">
<path d="M41.5,223.5 V229.5 M39.3,223.5 H43.7 M39.3,229.5 H43.7" stroke="#FF7F7F"/>
<path d="M46.5,197.5 V207.5 M44.3,197.5 H48.7 M44.3,207.5 H48.7" stroke="#FF7F7F"/>
<path d="M89.5,139.5 V159.5 M87.3,139.5 H91.7 M87.3,159.5 H91.7" stroke="#FF7F7F"/>
<path d="M105.5,137.5 V158.5 M103.3,137.5 H107.7 M103.3,158.5 H107.7" stroke="#FF7F7F"/>
<path d="M130.5,136.5 V157.5 M128.3,136.5 H132.7 M128.3,157.5 H132.7" stroke="#FF7F7F"/>
<path d="M169.5,123.5 V147.5 M167.3,123.5 H171.7 M167.3,147.5 H171.7" stroke="#FF7F7F"/>
<path d="M215.5,129.5 V150.5 M213.3,129.5 H217.7 M213.3,150.5 H217.7" stroke="#FF7F7F"/>
<path d="M242.5,101.5 V128.5 M240.3,101.5 H244.7 M240.3,128.5 H244.7" stroke="#FF7F7F"/>
<path d="M315.5,120.5 V144.5 M313.3,120.5 H317.7 M313.3,144.5 H317.7" stroke="#FF7F7F"/>
<path d="M41.5,223.5 V229.5 M39.3,223.5 H43.7 M39.3,229.5 H43.7" stroke="#7F7FFF"/>
<path d="M46.5,197.5 V207.5 M44.3,197.5 H48.7 M44.3,207.5 H48.7" stroke="#7F7FFF"/>
<path d="M89.5,159.5 V176.5 M87.3,159.5 H91.7 M87.3,176.5 H91.7" stroke="#7F7FFF"/>
<path d="M105.5,137.5 V158.5 M103.3,137.5 H107.7 M103.3,158.5 H107.7" stroke="#7F7FFF"/>
<path d="M130.5,144.5 V163.5 M128.3,144.5 H132.7 M128.3,163.5 H132.7" stroke="#7F7FFF"/>
<path d="M169.5,147.5 V165.5 M167.3,147.5 H171.7 M167.3,165.5 H171.7" stroke="#7F7FFF"/>
<path d="M215.5,136.5 V155.5 M213.3,136.5 H217.7 M213.3,155.5 H217.7" stroke="#7F7FFF"/>
<path d="M242.5,136.5 V158.5 M240.3,136.5 H244.7 M240.3,158.5 H244.7" stroke="#7F7FFF"/>
<path d="M315.5,120.5 V144.5 M313.3,120.5 H317.7 M313.3,144.5 H317.7" stroke="#7F7FFF"/>
</g>
<circle cx="41.7" cy="226" r="3" fill="#FF0000"/>
<circle cx="46.1" cy="202.8" r="3" fill="#FF0000"/>
<circle cx="89.8" cy="149.6" r="3" fill="#FF0000"/>
<circle cx="105.7" cy="147.7" r="3" fill="#FF0000"/>
<circle cx="130.2" cy="147.0" r="3" fill="#FF0000"/>
<circle cx="169.8" cy="135.5" r="3" fill="#FF0000"/>
<circle cx="215.3" cy="139.7" r="3" fill="#FF0000"/>
<circle cx="242.0" cy="115.6" r="3" fill="#FF0000"/>
<circle cx="315.4" cy="132.4" r="3" fill="#FF0000"/>
<path d="M38.2,228.6 L41.7,222.7 L45.2,228.6 Z" fill="#0000FF"/>
<path d="M42.6,205.4 L46.1,199.5 L49.6,205.4 Z" fill="#0000FF"/>
<path d="M86.3,169.9 L89.8,164.0 L93.3,169.9 Z" fill="#0000FF"/>
<path d="M102.2,150.29999999999998 L105.7,144.39999999999998 L109.2,150.29999999999998 Z" fill="#0000FF"/>
<path d="M126.69999999999999,156.2 L130.2,150.29999999999998 L133.7,156.2 Z" fill="#0000FF"/>
<path d="M166.3,158.9 L169.8,153.0 L173.3,158.9 Z" fill="#0000FF"/>
<path d="M211.8,148.0 L215.3,142.1 L218.8,148.0 Z" fill="#0000FF"/>
<path d="M238.5,148.9 L242.0,143.0 L245.5,148.9 Z" fill="#0000FF"/>
<path d="M311.9,135.0 L315.4,129.1 L318.9,135.0 Z" fill="#0000FF"/>
<g fill="none" stroke="#000">
<path d="M29,6 H330.5 M29,5.5 V250.5" stroke="#000" stroke-width="1"/>
<path d="M330.5,5.5 V250.5 M28.5,250.5 H331" stroke="#222" stroke-width="1"/>
<path d="M29.5,185.5 H34.2" stroke="#111" stroke-width="1"/>
<path d="M29.5,120.5 H34.2" stroke="#111" stroke-width="1"/>
<path d="M29.5,55.5 H34.2" stroke="#111" stroke-width="1"/>
<path d="M104.5,250 V245.6" stroke="#111" stroke-width="1.2"/>
<path d="M179.5,250 V245.6" stroke="#111" stroke-width="1.2"/>
<path d="M254.5,250 V245.6" stroke="#111" stroke-width="1.2"/>
</g>
<g font-family="Liberation Sans, sans-serif" font-size="11.8" fill="#222">
<text x="24" y="254.0" text-anchor="end">0</text>
<text x="24" y="188.3" text-anchor="end">2</text>
<text x="24" y="123.4" text-anchor="end">4</text>
<text x="24" y="58.0" text-anchor="end">6</text>
<text x="29.0" y="264.5" text-anchor="middle">0</text>
<text x="104.3" y="264.5" text-anchor="middle">100</text>
<text x="179.6" y="264.5" text-anchor="middle">200</text>
<text x="254.8" y="264.5" text-anchor="middle">300</text>
<text x="330.1" y="264.5" text-anchor="middle">400</text>
</g>
<text x="182.6" y="283.6" font-family="Liberation Sans, sans-serif" font-size="16" text-anchor="middle" fill="#111">d (nm)</text>
<text transform="translate(11.7,118.7) rotate(-90)" font-family="Liberation Sans, sans-serif" font-size="14.5" text-anchor="middle" fill="#111">λ (μm)</text>
<text transform="translate(6.0,14.8) scale(0.83,1)" font-family="Liberation Sans, sans-serif" font-size="17.3" font-weight="bold" fill="#000" stroke="#000" stroke-width="0.45">a</text>
<g font-family="Liberation Sans, sans-serif" font-size="11.1" fill="#222">
<path d="M64.5,37.3 H91.1" stroke="#8000FF" stroke-width="2"/>
<path d="M64.5,57.3 H91.1" stroke="#00FFFF" stroke-width="2"/>
<text x="93.5" y="40.9">Surface Plasmon (ε<tspan font-size="7.5" dy="4.8" dx="0.3">c</tspan><tspan dy="-4.8" dx="0.3"> &lt; 0)</tspan></text>
<text x="93.5" y="60.6">Hyperbolic 0<tspan font-size="7.5" dy="-4.6" dx="1.2">th</tspan><tspan dy="4.6"> Branch (ε</tspan><tspan font-size="7.5" dy="4.8" dx="0.3">c</tspan><tspan dy="-4.8" dx="0.3"> &gt; 0)</tspan></text>
<path d="M73.9,79 L77.5,73 L81.1,79 Z" fill="#0000FF"/>
<circle cx="77.3" cy="94.6" r="3" fill="#FF0000"/>
<text x="93.3" y="80.3">λ<tspan font-size="7.5" dy="4.8" dx="0.3">1</tspan><tspan dy="-4.8" dx="0.3"> (Vertical)</tspan></text>
<text x="93.3" y="98.3">λ<tspan font-size="7.5" dy="4.8" dx="0.3">2</tspan><tspan dy="-4.8" dx="0.3"> (Horizontal)</tspan></text>
</g>
<g font-family="Liberation Sans, sans-serif" font-size="11.1" fill="#222">
<path d="M144,194.4 H170.2" stroke="#008000" stroke-width="2"/>
<text x="173.2" y="198.1">Hyperbolic 1<tspan font-size="7.5" dy="-4.6" dx="1.2">st</tspan><tspan dy="4.6"> Branch (ε</tspan><tspan font-size="7.5" dy="4.8" dx="0.3">c</tspan><tspan dy="-4.8" dx="0.3"> = +1)</tspan></text>
<path d="M144,214.3 H170.2" stroke="#FF00FF" stroke-width="2"/>
<text x="173.2" y="218.0">Hyperbolic 1<tspan font-size="7.5" dy="-4.6" dx="1.2">st</tspan><tspan dy="4.6"> Branch (ε</tspan><tspan font-size="7.5" dy="4.8" dx="0.3">c</tspan><tspan dy="-4.8" dx="0.3"> = +2)</tspan></text>
<path d="M144,234.2 H170.2" stroke="#FF8000" stroke-width="2"/>
<text x="173.2" y="237.9">Hyperbolic 1<tspan font-size="7.5" dy="-4.6" dx="1.2">st</tspan><tspan dy="4.6"> Branch (ε</tspan><tspan font-size="7.5" dy="4.8" dx="0.3">c</tspan><tspan dy="-4.8" dx="0.3"> = +3)</tspan></text>
</g>
<path d="M376.8,129 H672" stroke="#888" stroke-width="1" stroke-dasharray="1.5,1.15"/>
<path d="M396.2,6 L396.9,128 L397.4,250" stroke="#000" stroke-width="2" fill="none"/>
<path d="M398.8,6 L399.2,128 L399.6,250" stroke="#FF8000" stroke-width="2" fill="none"/>
<path d="M403.1,250.5 C403.6,230 404,219.4 404.5,219.4 C405,219.4 405.6,230 406.4,250.5" stroke="#FF8000" stroke-width="2" fill="none"/>
<path d="M456.90,120.40 L488.10,119.80 L504.20,118.40 L508.70,116.80 L513.50,119.50" stroke="#00FFFF" stroke-width="2" fill="none"/>
<rect x="454.3" y="117.9" width="5.2" height="5" fill="#00FFFF"/>
<rect x="485.5" y="117.3" width="5.2" height="5" fill="#00FFFF"/>
<rect x="501.6" y="115.9" width="5.2" height="5" fill="#00FFFF"/>
<rect x="506.1" y="114.3" width="5.2" height="5" fill="#00FFFF"/>
<rect x="510.9" y="117.0" width="5.2" height="5" fill="#00FFFF"/>
<path d="M488.10,108.60 L505.20,103.80 L513.70,107.30" stroke="#0000FF" stroke-width="2" fill="none"/>
<rect x="485.5" y="106.1" width="5.2" height="5" fill="#0000FF"/>
<rect x="502.6" y="101.3" width="5.2" height="5" fill="#0000FF"/>
<rect x="511.1" y="104.8" width="5.2" height="5" fill="#0000FF"/>
<path d="M487.80,88.80 L504.60,91.40 L514.00,88.50" stroke="#00FF00" stroke-width="2" fill="none"/>
<rect x="485.2" y="86.3" width="5.2" height="5" fill="#00FF00"/>
<rect x="502.0" y="88.9" width="5.2" height="5" fill="#00FF00"/>
<rect x="511.4" y="86.0" width="5.2" height="5" fill="#00FF00"/>
<path d="M456.80,76.40 L467.10,82.20 L487.80,81.50 L499.80,79.30 L504.60,85.00 L514.00,75.70" stroke="#FF00FF" stroke-width="2" fill="none"/>
<rect x="454.2" y="73.9" width="5.2" height="5" fill="#FF00FF"/>
<rect x="464.5" y="79.7" width="5.2" height="5" fill="#FF00FF"/>
<rect x="485.2" y="79.0" width="5.2" height="5" fill="#FF00FF"/>
<rect x="497.2" y="76.8" width="5.2" height="5" fill="#FF00FF"/>
<rect x="502.0" y="82.5" width="5.2" height="5" fill="#FF00FF"/>
<rect x="511.4" y="73.2" width="5.2" height="5" fill="#FF00FF"/>
<g fill="none" stroke-width="2" stroke-linejoin="round">
<path d="M483.20,250.50 C483.82,248.35 485.95,240.63 486.90,237.60 C487.85,234.57 488.18,234.10 488.90,232.30 C489.62,230.50 490.53,228.42 491.20,226.80 C491.87,225.18 491.97,224.73 492.90,222.60 C493.83,220.47 495.48,216.62 496.80,214.00 C498.12,211.38 499.70,208.97 500.80,206.90 C501.90,204.83 502.62,203.25 503.40,201.60 C504.18,199.95 504.92,198.37 505.50,197.00 C506.08,195.63 506.23,194.38 506.90,193.40 C507.57,192.42 508.63,191.92 509.50,191.10 C510.37,190.28 511.22,189.52 512.10,188.50 C512.98,187.48 514.03,186.15 514.80,185.00 C515.57,183.85 514.35,184.45 516.70,181.60 C519.05,178.75 524.82,172.02 528.90,167.90 C532.98,163.78 537.12,160.57 541.20,156.90 C545.28,153.23 550.07,148.77 553.40,145.90 C556.73,143.03 558.47,141.67 561.20,139.70 C563.93,137.73 566.73,136.13 569.80,134.10 C572.87,132.07 576.33,129.42 579.60,127.50 C582.87,125.58 586.55,124.03 589.40,122.60 C592.25,121.17 593.85,120.65 596.70,118.90 C599.55,117.15 603.23,114.75 606.50,112.10 C609.77,109.45 614.27,104.60 616.30,103.00 C618.33,101.40 617.25,103.25 618.70,102.50 C620.15,101.75 622.63,99.95 625.00,98.50 C627.37,97.05 630.28,95.28 632.90,93.80 C635.52,92.32 638.48,90.73 640.70,89.60 C642.92,88.47 644.93,87.43 646.20,87.00 C647.47,86.57 647.38,87.43 648.30,87.00 C649.22,86.57 650.35,85.37 651.70,84.40 C653.05,83.43 654.30,82.52 656.40,81.20 C658.50,79.88 661.77,77.93 664.30,76.50 C666.83,75.07 670.38,73.25 671.60,72.60" stroke="#000"/>
<path d="M436.90,250.50 L440.80,239.70 L444.00,227.80 L446.20,220.30 L449.50,211.60 L452.70,206.20 L455.50,199.70 L459.40,185.00 L462.60,179.80 L465.70,176.60 L470.90,167.20 L479.30,154.70 L482.50,153.00 L485.20,152.10 L487.60,152.60 L492.70,141.30 L498.50,129.80 L503.30,122.10 L507.10,118.30 L510.00,116.30 L513.80,116.00 L516.70,116.30 L520.60,115.00 L523.50,116.00 L526.30,113.10 L530.20,108.70 L534.00,102.90 L536.80,103.70 L541.00,98.80 L545.20,95.70 L549.00,87.30 L551.10,89.00 L555.70,82.00 L557.40,82.70 L558.80,84.80 L562.00,80.00 L564.10,81.40 L566.20,80.00 L570.40,78.90 L580.90,71.50 L591.40,66.30 L600.00,62.10 L605.50,58.80 L616.00,53.60 L622.30,49.80 L632.80,46.70 L645.40,40.60 L651.70,40.40 L655.90,37.20 L664.30,33.60 L671.60,31.50" stroke="#FF8000"/>
<path d="M371.30,84.00 C371.45,81.92 371.78,71.33 372.20,71.50 C372.62,71.67 373.38,80.50 373.80,85.00 C374.22,89.50 374.32,94.82 374.70,98.50 C375.08,102.18 375.55,105.12 376.10,107.10 C376.65,109.08 377.27,110.08 378.00,110.40 C378.73,110.72 379.60,109.70 380.50,109.00 C381.40,108.30 381.95,107.00 383.40,106.20 C384.85,105.40 386.77,105.02 389.20,104.20 C391.63,103.38 394.67,102.53 398.00,101.30 C401.33,100.07 406.37,98.00 409.20,96.80 C412.03,95.60 413.17,95.28 415.00,94.10 C416.83,92.92 418.45,91.07 420.20,89.70 C421.95,88.33 424.03,86.77 425.50,85.90 C426.97,85.03 427.98,84.68 429.00,84.50 C430.02,84.32 430.15,85.33 431.60,84.80 C433.05,84.27 435.80,81.73 437.70,81.30 C439.60,80.87 440.97,82.20 443.00,82.20 C445.03,82.20 447.58,81.85 449.90,81.30 C452.22,80.75 454.27,79.37 456.90,78.90 C459.53,78.43 463.52,78.72 465.70,78.50 C467.88,78.28 467.82,78.15 470.00,77.60 C472.18,77.05 475.88,76.28 478.80,75.20 C481.72,74.12 484.58,72.85 487.50,71.10 C490.42,69.35 493.38,66.73 496.30,64.70 C499.22,62.67 502.08,60.60 505.00,58.90 C507.92,57.20 510.88,56.10 513.80,54.50 C516.72,52.90 519.72,51.08 522.50,49.30 C525.28,47.52 527.93,45.68 530.50,43.80 C533.07,41.92 535.37,39.88 537.90,38.00 C540.43,36.12 543.73,34.12 545.70,32.50 C547.67,30.88 548.12,29.73 549.70,28.30 C551.28,26.87 553.23,25.22 555.20,23.90 C557.17,22.58 559.15,21.50 561.50,20.40 C563.85,19.30 566.68,18.17 569.30,17.30 C571.92,16.43 574.57,15.80 577.20,15.20 C579.83,14.60 582.48,14.13 585.10,13.70 C587.72,13.27 590.53,12.92 592.90,12.60 C595.27,12.28 597.52,11.78 599.30,11.80 C601.08,11.82 601.02,12.67 603.60,12.70 C606.18,12.73 609.83,12.22 614.80,12.00 C619.77,11.78 628.23,11.43 633.40,11.40 C638.57,11.37 641.35,11.53 645.80,11.80 C650.25,12.07 656.58,12.97 660.10,13.00 C663.62,13.03 664.93,12.25 666.90,12.00 C668.87,11.75 671.07,11.58 671.90,11.50" stroke="#00FF00"/>
</g>
<g fill="none">
<path d="M370.5,6.3 H672.5 M370.5,6 V250.5" stroke="#222" stroke-width="1"/>
<path d="M672.3,6 V250.5 M370,250.5 H672.8" stroke="#222" stroke-width="1"/>
<path d="M371,67.5 H375.5" stroke="#111" stroke-width="1"/>
<path d="M371,128.5 H375.5" stroke="#111" stroke-width="1"/>
<path d="M371,189.5 H375.5" stroke="#111" stroke-width="1"/>
<path d="M370.50,250 V245.6" stroke="#111" stroke-width="1"/>
<path d="M413.61,250 V245.6" stroke="#111" stroke-width="1"/>
<path d="M456.73,250 V245.6" stroke="#111" stroke-width="1"/>
<path d="M499.84,250 V245.6" stroke="#111" stroke-width="1"/>
<path d="M542.96,250 V245.6" stroke="#111" stroke-width="1"/>
<path d="M586.07,250 V245.6" stroke="#111" stroke-width="1"/>
<path d="M629.19,250 V245.6" stroke="#111" stroke-width="1"/>
<path d="M672.30,250 V245.6" stroke="#111" stroke-width="1"/>
</g>
<g font-family="Liberation Sans, sans-serif" font-size="11.1" fill="#222">
<text x="368" y="9.4" text-anchor="end">8</text>
<text x="368" y="70.6" text-anchor="end">4</text>
<text x="368" y="131.8" text-anchor="end">0</text>
<text x="368" y="193.0" text-anchor="end">-4</text>
<text x="368" y="254.2" text-anchor="end">-8</text>
<text x="370.5" y="263.8" text-anchor="middle">0</text>
<text x="413.6" y="263.8" text-anchor="middle">500</text>
<text x="456.7" y="263.8" text-anchor="middle">1000</text>
<text x="499.8" y="263.8" text-anchor="middle">1500</text>
<text x="543.0" y="263.8" text-anchor="middle">2000</text>
<text x="586.1" y="263.8" text-anchor="middle">2500</text>
<text x="629.2" y="263.8" text-anchor="middle">3000</text>
<text x="672.3" y="263.8" text-anchor="middle">3500</text>
</g>
<text transform="translate(348.4,14.7) scale(0.83,1)" font-family="Liberation Sans, sans-serif" font-size="17.8" font-weight="bold" fill="#000" stroke="#000" stroke-width="0.35">b</text>
<g transform="translate(496.9,0) scale(1.1,1) translate(-496.9,0)"><text x="496.5" y="283" font-family="Liberation Sans, sans-serif" font-size="14" fill="#111"><tspan font-family="Liberation Serif, serif" font-size="15">ω</tspan> (cm<tspan font-size="9.5" dy="-7.5">-1</tspan><tspan dy="7.5">)</tspan></text></g>
<g transform="translate(354,0) rotate(-90)" font-family="Liberation Sans, sans-serif" font-size="14.5" fill="#111"><text x="-144.8" y="0">ε</text><text x="-139.4" y="4.8" font-size="10.5">c</text><text x="-130.0" y="0">(</text><text x="-125.0" y="0" font-family="Liberation Serif, serif" font-size="15">ω</text><text x="-114.6" y="0">)</text></g>
<g font-family="Liberation Sans, sans-serif" font-size="13.2">
<rect x="406.1" y="13.8" width="3.9" height="3.8" fill="#00FFFF"/>
<text x="413.2" y="20.7" fill="#00FFFF">80 nm</text>
<rect x="406.1" y="28.5" width="3.9" height="3.8" fill="#0000FF"/>
<text x="413.2" y="35.4" fill="#0000FF">135 nm</text>
<rect x="406.1" y="43.9" width="3.9" height="3.8" fill="#00FF00"/>
<text x="413.2" y="50.8" fill="#00FF00">250 nm</text>
<rect x="406.1" y="57.6" width="3.9" height="3.8" fill="#FF00FF"/>
<text x="413.2" y="64.5" fill="#FF00FF">380 nm</text>
</g>
<path d="M458.6,13 H463.1 V64 H458.3 M463.1,38.8 H467.9" stroke="#111" stroke-width="1.8" fill="none"/>
<text x="466.8" y="21.4" font-family="Liberation Sans, sans-serif" font-size="13.2" fill="#111">Re [<tspan font-size="10.5" dx="0.4">ϵ</tspan><tspan font-size="9.5" dy="3.5" dx="0.1">c</tspan><tspan dy="-3.5" dx="0.3">] (Exp.)</tspan></text>
<g font-family="Liberation Sans, sans-serif" font-size="13.2" fill="#111">
<path d="M515.6,188.5 H532.8" stroke="#000" stroke-width="2"/>
<text x="535" y="191.4">Re [<tspan font-size="10.5" dx="0.4">ϵ</tspan><tspan font-size="9.5" dy="3.5" dx="0.1">c</tspan><tspan dy="-3.5" dx="0.3">] (DFT)</tspan></text>
<path d="M515.6,212.6 H532.8" stroke="#FF8000" stroke-width="2"/>
<text x="535" y="216.4">Re [<tspan font-size="10.5" dx="0.4">ϵ</tspan><tspan font-size="9.5" dy="3.5" dx="0.1">c</tspan><tspan dy="-3.5" dx="0.3">] (DFT+U (2 eV))</tspan></text>
<path d="M515.6,236.3 H532.8" stroke="#00FF00" stroke-width="2"/>
<text x="535" y="241.0">Re [<tspan font-size="10.5" dx="0.4">ϵ</tspan><tspan font-size="9.5" dy="3.5" dx="0.1">c</tspan><tspan dy="-3.5" dx="0.3">] (DFT+U (4 eV))</tspan></text>
</g>
</svg>
</body></html>
